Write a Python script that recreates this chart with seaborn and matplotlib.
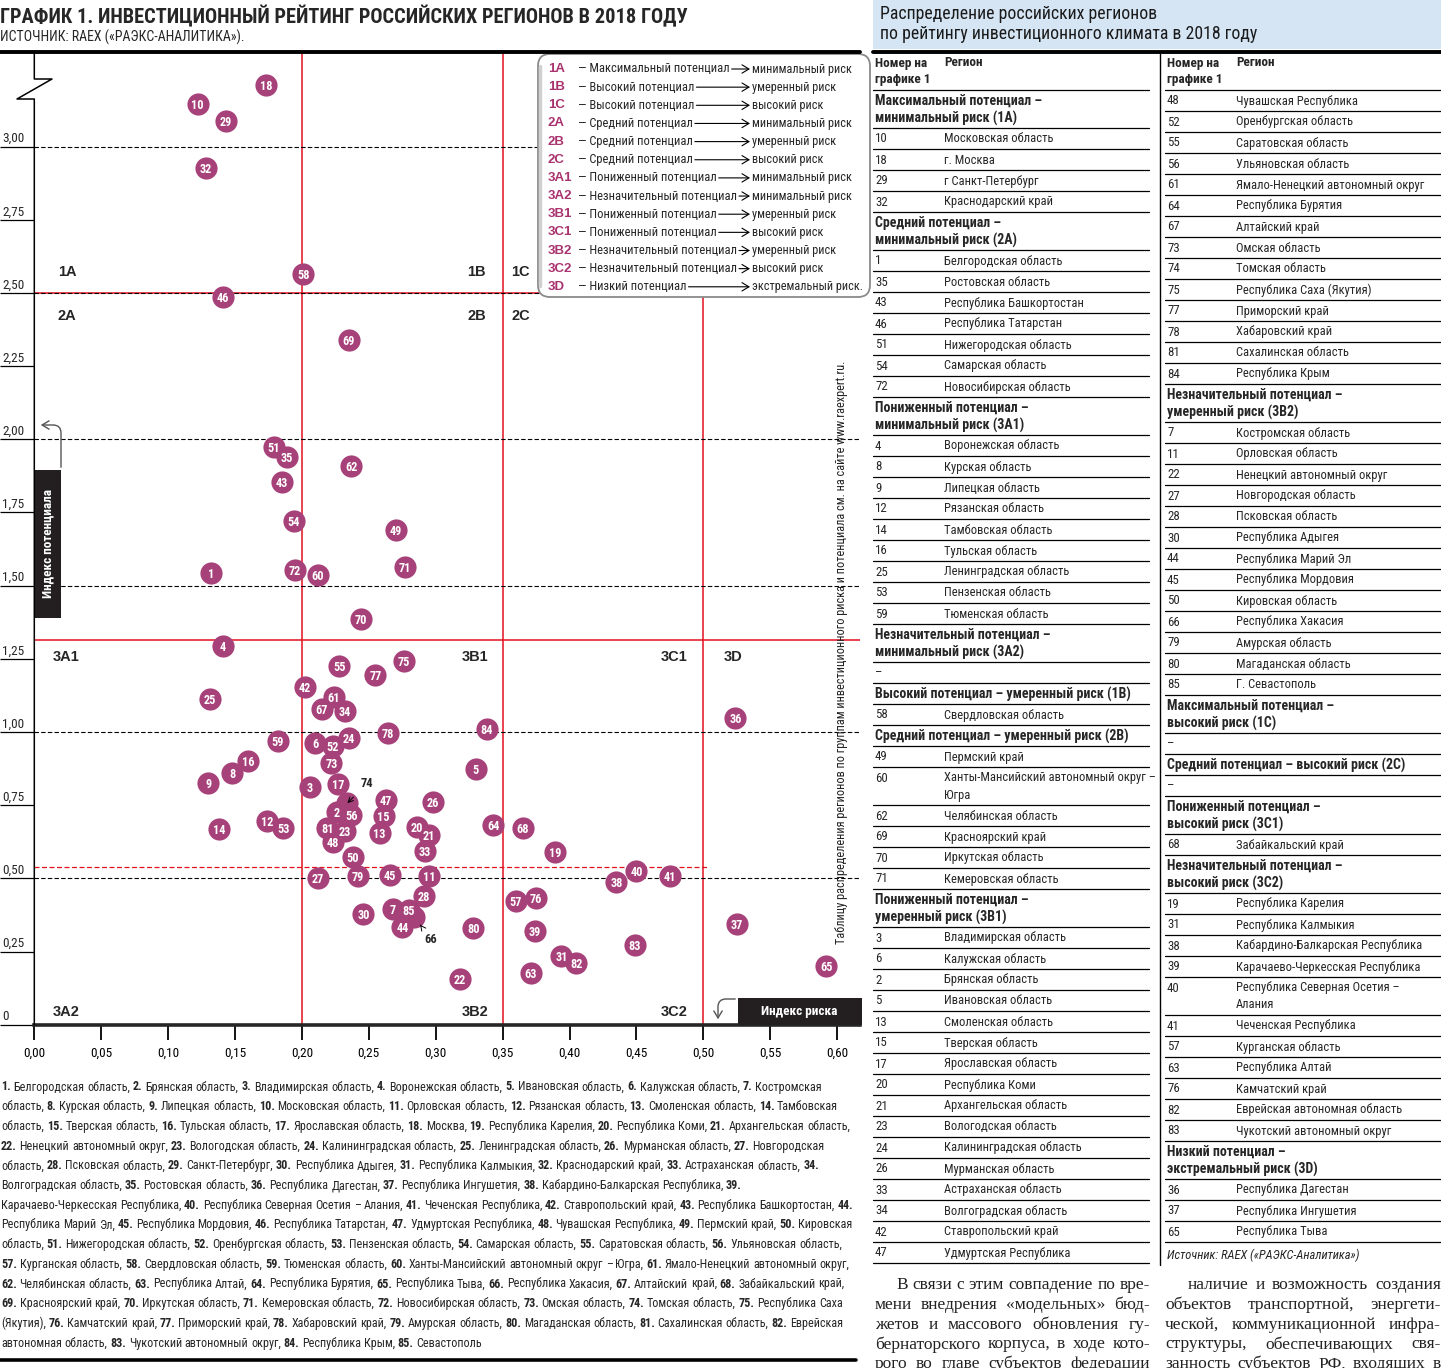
import matplotlib
matplotlib.use('Agg')
import matplotlib.pyplot as plt
from matplotlib import font_manager, transforms
from matplotlib.lines import Line2D
from matplotlib.patches import Rectangle, FancyBboxPatch, FancyArrowPatch
import pandas as pd
import seaborn as sns

# --- данные графика: номер региона, индекс риска (X), индекс потенциала (Y) ---
region_no = list(range(1, 86))
risk_index = [
    0.132, 0.226, 0.206, 0.141, 0.330, 0.210, 0.268, 0.148, 0.130, 0.122,
    0.295, 0.174, 0.258, 0.138, 0.261, 0.160, 0.227, 0.173, 0.389, 0.286,
    0.295, 0.318, 0.232, 0.235, 0.131, 0.298, 0.212, 0.291, 0.143, 0.246,
    0.394, 0.128, 0.292, 0.232, 0.189, 0.524, 0.525, 0.435, 0.374, 0.450,
    0.475, 0.202, 0.185, 0.275, 0.266, 0.141, 0.263, 0.223, 0.270, 0.238,
    0.179, 0.223, 0.186, 0.194, 0.228, 0.237, 0.360, 0.201, 0.182, 0.212,
    0.224, 0.237, 0.371, 0.343, 0.592, 0.284, 0.215, 0.365, 0.235, 0.244,
    0.277, 0.195, 0.222, 0.234, 0.276, 0.375, 0.255, 0.264, 0.242, 0.328,
    0.219, 0.405, 0.449, 0.338, 0.280,
]
potential_index = [
    1.544, 0.726, 0.812, 1.295, 0.873, 0.961, 0.395, 0.859, 0.825, 3.146,
    0.507, 0.695, 0.656, 0.670, 0.713, 0.900, 0.821, 3.210, 0.590, 0.675,
    0.649, 0.155, 0.663, 0.980, 1.114, 0.762, 0.500, 0.441, 3.088, 0.377,
    0.235, 2.926, 0.594, 1.071, 1.939, 1.047, 0.344, 0.487, 0.320, 0.524,
    0.509, 1.155, 1.854, 0.335, 0.510, 2.485, 0.768, 0.623, 1.690, 0.573,
    1.973, 0.953, 0.673, 1.720, 1.225, 0.715, 0.424, 2.564, 0.968, 1.536,
    1.121, 1.908, 0.176, 0.681, 0.202, 0.368, 1.080, 0.671, 2.339, 1.385,
    1.564, 1.552, 0.895, 0.757, 1.244, 0.432, 1.195, 0.996, 0.507, 0.329,
    0.673, 0.210, 0.271, 1.010, 0.391,
]
region_names = [
    'Белгородская область', 'Брянская область', 'Владимирская область', 'Воронежская область',
    'Ивановская область', 'Калужская область', 'Костромская область', 'Курская область',
    'Липецкая область', 'Московская область', 'Орловская область', 'Рязанская область',
    'Смоленская область', 'Тамбовская область', 'Тверская область', 'Тульская область',
    'Ярославская область', 'Москва', 'Республика Карелия', 'Республика Коми',
    'Архангельская область', 'Ненецкий автономный округ', 'Вологодская область',
    'Калининградская область', 'Ленинградская область', 'Мурманская область',
    'Новгородская область', 'Псковская область', 'Санкт-Петербург', 'Республика Адыгея',
    'Республика Калмыкия', 'Краснодарский край', 'Астраханская область', 'Волгоградская область',
    'Ростовская область', 'Республика Дагестан', 'Республика Ингушетия',
    'Кабардино-Балкарская Республика', 'Карачаево-Черкесская Республика',
    'Республика Северная Осетия – Алания', 'Чеченская Республика', 'Ставропольский край',
    'Республика Башкортостан', 'Республика Марий Эл', 'Республика Мордовия',
    'Республика Татарстан', 'Удмуртская Республика', 'Чувашская Республика', 'Пермский край',
    'Кировская область', 'Нижегородская область', 'Оренбургская область', 'Пензенская область',
    'Самарская область', 'Саратовская область', 'Ульяновская область', 'Курганская область',
    'Свердловская область', 'Тюменская область', 'Ханты-Мансийский автономный округ – Югра',
    'Ямало-Ненецкий автономный округ', 'Челябинская область', 'Республика Алтай',
    'Республика Бурятия', 'Республика Тыва', 'Республика Хакасия', 'Алтайский край',
    'Забайкальский край', 'Красноярский край', 'Иркутская область', 'Кемеровская область',
    'Новосибирская область', 'Омская область', 'Томская область', 'Республика Саха (Якутия)',
    'Камчатский край', 'Приморский край', 'Хабаровский край', 'Амурская область',
    'Магаданская область', 'Сахалинская область', 'Еврейская автономная область',
    'Чукотский автономный округ', 'Республика Крым', 'Севастополь',
]
hidden_points = [74, 66]  # кружки закрыты соседями, подписаны сбоку со стрелкой

x_ticks = [0.00, 0.05, 0.10, 0.15, 0.20, 0.25, 0.30, 0.35, 0.40, 0.45, 0.50, 0.55, 0.60]
x_tick_labels = ['0,00', '0,05', '0,10', '0,15', '0,20', '0,25', '0,30',
                 '0,35', '0,40', '0,45', '0,50', '0,55', '0,60']
y_ticks = [0, 0.25, 0.50, 0.75, 1.00, 1.25, 1.50, 1.75, 2.00, 2.25, 2.50, 2.75, 3.00]
y_tick_labels = ['0', '0,25', '0,50', '0,75', '1,00', '1,25', '1,50',
                 '1,75', '2,00', '2,25', '2,50', '2,75', '3,00']
grid_levels = [0.5, 1.0, 1.5, 2.0, 2.5, 3.0]
risk_bounds = [0.20, 0.35, 0.50]
potential_bounds = [1.314, 2.50]
low_bound = 0.538  # красный пунктир между 3x1 и 3x2

legend_codes = ['1A', '1B', '1C', '2A', '2B', '2C', '3A1', '3A2', '3B1', '3C1', '3B2', '3C2', '3D']
legend_potential = ['Максимальный потенциал', 'Высокий потенциал', 'Высокий потенциал',
                    'Средний потенциал', 'Средний потенциал', 'Средний потенциал',
                    'Пониженный потенциал', 'Незначительный потенциал', 'Пониженный потенциал',
                    'Пониженный потенциал', 'Незначительный потенциал', 'Незначительный потенциал',
                    'Низкий потенциал']
legend_risk = ['минимальный риск', 'умеренный риск', 'высокий риск', 'минимальный риск',
               'умеренный риск', 'высокий риск', 'минимальный риск', 'минимальный риск',
               'умеренный риск', 'высокий риск', 'умеренный риск', 'высокий риск',
               'экстремальный риск.']

# подписи зон на графике (текст, x и y в пикселях картинки)
zone_labels = [('1A', 58, 272), ('1B', 467, 272), ('1C', 511, 272),
               ('2A', 58, 316), ('2B', 467, 316), ('2C', 511, 316),
               ('3A1', 53, 657), ('3B1', 462, 657), ('3C1', 661, 657), ('3D', 724, 657),
               ('3A2', 53, 1012), ('3B2', 462, 1012), ('3C2', 661, 1012)]

# таблица справа
table_groups = [
    ('Максимальный потенциал –\nминимальный риск (1А)', [10, 18, 29, 32]),
    ('Средний потенциал –\nминимальный риск (2А)', [1, 35, 43, 46, 51, 54, 72]),
    ('Пониженный потенциал –\nминимальный риск (3А1)', [4, 8, 9, 12, 14, 16, 25, 53, 59]),
    ('Незначительный потенциал –\nминимальный риск (3А2)', []),
    ('Высокий потенциал – умеренный риск (1В)', [58]),
    ('Средний потенциал – умеренный риск (2В)', [49, 60, 62, 69, 70, 71]),
    ('Пониженный потенциал –\nумеренный риск (3В1)',
     [3, 6, 2, 5, 13, 15, 17, 20, 21, 23, 24, 26, 33, 34, 42, 47, 48, 52, 55, 56,
      61, 64, 67, 73, 74, 75, 77, 78, 81, 84]),
    ('Незначительный потенциал –\nумеренный риск (3В2)',
     [7, 11, 22, 27, 28, 30, 44, 45, 50, 66, 79, 80, 85]),
    ('Максимальный потенциал –\nвысокий риск (1С)', []),
    ('Средний потенциал – высокий риск (2С)', []),
    ('Пониженный потенциал –\nвысокий риск (3С1)', [68]),
    ('Незначительный потенциал –\nвысокий риск (3С2)', [19, 31, 38, 39, 40, 41, 57, 63, 76, 82, 83]),
    ('Низкий потенциал –\nэкстремальный риск (3D)', [36, 37, 65]),
]
table_names = {18: 'г. Москва', 29: 'г Санкт-Петербург', 85: 'Г. Севастополь',
               60: 'Ханты-Мансийский автономный округ –\nЮгра',
               40: 'Республика Северная Осетия –\nАлания'}

body_left = ['В связи с этим совпадение по вре-', 'мени внедрения «модельных» бюд-',
             'жетов и массового обновления гу-', 'бернаторского корпуса, в ходе кото-',
             'рого во главе субъектов федерации']
body_right = ['наличие и возможность создания', 'объектов транспортной, энергети-',
              'ческой, коммуникационной инфра-', 'структуры, обеспечивающих свя-',
              'занность субъектов РФ, входящих в']

DOT = '#A7417A'
CODE = '#A9336F'
RED = '#E3101E'
W, H = 1441, 1368

available = set(font_manager.fontManager.get_font_names())
NARROW = next((f for f in ['Liberation Sans Narrow', 'Roboto Condensed', 'DejaVu Sans']
               if f in available), 'DejaVu Sans')
REGULAR = 'Liberation Sans' if 'Liberation Sans' in available else 'DejaVu Sans'
SERIF = 'Liberation Serif' if 'Liberation Serif' in available else 'DejaVu Serif'

sns.set_style('white')
plt.rcParams['font.family'] = [NARROW, 'DejaVu Sans']
plt.rcParams['font.stretch'] = 'condensed'

fig = plt.figure(figsize=(W / 100, H / 100), dpi=100)
renderer = fig.canvas.get_renderer()
# пиксели картинки, начало координат слева сверху
PX = transforms.Affine2D().scale(1 / W, -1 / H).translate(0, 1) + fig.transFigure


def ftext(x, y, s, **kw):
    kw.setdefault('va', 'center')
    return fig.text(x, y, s, transform=PX, **kw)


def fline(xs, ys, **kw):
    kw.setdefault('color', 'black')
    fig.add_artist(Line2D(xs, ys, transform=PX, **kw))


def text_w(s, **kw):
    t = fig.text(0, 0, s, **kw)
    w = t.get_window_extent(renderer=renderer).width
    t.remove()
    return w


# --- график ---
X0, Y0, X1, Y1 = 34.3, 1024.7, 860, 52
PX_PER_RISK, PX_PER_POT = 1338, 292.7
ax = fig.add_axes([X0 / W, 1 - Y0 / H, (X1 - X0) / W, (Y0 - Y1) / H])
ax.set_xlim(0, (X1 - X0) / PX_PER_RISK)
ax.set_ylim(0, (Y0 - Y1) / PX_PER_POT)

for v in risk_bounds:
    ax.axvline(v, color=RED, lw=1.1, zorder=1)
for v in potential_bounds:
    ax.axhline(v, color=RED, lw=1.1, zorder=1)
ax.plot([0, risk_bounds[-1] + 0.004], [low_bound, low_bound], color=RED, lw=0.9,
        ls=(0, (4, 2)), zorder=1)
for v in grid_levels:
    ax.axhline(v, color='black', lw=0.8, ls=(0, (4, 2)), zorder=2)

df = pd.DataFrame({'region': region_no, 'risk': risk_index, 'potential': potential_index})
df['first'] = ~df['region'].isin(hidden_points)
df = df.sort_values(['first', 'region'])
sns.scatterplot(data=df, x='risk', y='potential', s=255, color=DOT, linewidth=0,
                ax=ax, legend=False, zorder=4, clip_on=False)
for r in df.itertuples():
    if r.region in hidden_points:
        continue
    ax.text(r.risk, r.potential, str(r.region), ha='center', va='center_baseline',
            color='white', fontsize=8.8, weight='bold', zorder=5)

for n, off in zip(hidden_points, [(14, 14), (12, -16)]):
    r = df[df['region'] == n].iloc[0]
    ax.annotate(str(n), xy=(r.risk, r.potential), xytext=off, textcoords='offset points',
                ha='center', va='center', fontsize=9, weight='bold', zorder=6,
                arrowprops=dict(arrowstyle='->', lw=0.7, color='black', shrinkA=4, shrinkB=7))

ax.set_xlabel('')
ax.set_ylabel('')
ax.spines[['top', 'right', 'left']].set_visible(False)
ax.spines['bottom'].set_linewidth(2.6)
ax.set_xticks(x_ticks, x_tick_labels, fontsize=9.5)
ax.set_yticks(y_ticks, [''] * len(y_ticks))
ax.tick_params(axis='x', bottom=True, length=11, width=1.3, pad=5, colors='black')
ax.tick_params(axis='y', left=True, length=24.7, width=0.9, colors='black')
for v, lbl in zip(y_ticks, y_tick_labels):
    ax.annotate(lbl, xy=(2 / W, v), xycoords=('figure fraction', 'data'), xytext=(0, 1),
                textcoords='offset points', ha='left', va='bottom', fontsize=9.5)

# разрыв оси Y
fline([X0, X0, 52, 17, X0, X0], [52, 79, 79, 99, 99, Y0], lw=1.1)

for code, x, y in zone_labels:
    ftext(x, y, code, family=REGULAR, weight='bold', fontsize=10.5)

# подписи осей в чёрных плашках
fig.add_artist(Rectangle((35, 470), 26, 148, transform=PX, fc='#231f20', ec='none'))
ftext(48, 544, 'Индекс потенциала', color='white', weight='bold', fontsize=9.5,
      rotation=90, ha='center')
fig.add_artist(FancyArrowPatch((61, 470), (38, 425), transform=PX,
                               connectionstyle='angle,angleA=90,angleB=0,rad=8',
                               arrowstyle='->,head_length=5,head_width=3', lw=1, color='#555'))
fig.add_artist(Rectangle((738, 998), 124, 27, transform=PX, fc='#231f20', ec='none'))
ftext(799, 1011, 'Индекс риска', color='white', weight='bold', fontsize=9.5, ha='center')
fig.add_artist(FancyArrowPatch((738, 999), (718, 1022), transform=PX,
                               connectionstyle='angle,angleA=0,angleB=90,rad=8',
                               arrowstyle='->,head_length=5,head_width=3', lw=1, color='#555'))

ftext(842, 652, 'Таблицу распределения регионов по группам инвестиционного риска и потенциала '
      'см. на сайте www.raexpert.ru.', rotation=90, ha='center', fontsize=8.8, color='#222')

# легенда зон
fig.add_artist(FancyBboxPatch((538, 54), 332, 243, transform=PX,
                              boxstyle='round,pad=0,rounding_size=12',
                              fc='white', ec='#8a8a8a', lw=1.3))
fline([540, 540], [66, 286], color='#d0d0d0', lw=2.5)
for i, (code, pot, risk) in enumerate(zip(legend_codes, legend_potential, legend_risk)):
    y = 69 + i * 18.15
    ftext(548, y, code, color=CODE, weight='bold', family=REGULAR, fontsize=9.5)
    t = ftext(578, y, '— ' + pot, fontsize=9)
    x_end = t.get_window_extent(renderer=renderer).x1
    fig.add_artist(FancyArrowPatch((x_end + 2, y), (750, y), transform=PX,
                                   arrowstyle='->,head_length=5,head_width=3', lw=0.8,
                                   color='black', shrinkA=0, shrinkB=0))
    ftext(752, y, risk, fontsize=8.8)

# заголовок
fline([0, 860], [52, 52], lw=2.8)
ftext(0, 16, 'ГРАФИК 1. ИНВЕСТИЦИОННЫЙ РЕЙТИНГ РОССИЙСКИХ РЕГИОНОВ В 2018 ГОДУ',
      weight='bold', fontsize=14.7)
ftext(0, 37, 'ИСТОЧНИК: RAEX («РАЭКС-АНАЛИТИКА»).', fontsize=10)

# --- расшифровка номеров под графиком ---
FOOT_FS = 8.7
tokens = []
for n, name in zip(region_no, region_names):
    tokens.append((f'{n}.', True))
    words = name.split(' ')
    if n != region_no[-1]:
        words[-1] += ','
    tokens += [(w, False) for w in words]
space = text_w('a a', fontsize=FOOT_FS) - text_w('aa', fontsize=FOOT_FS)
lines, cur, cur_w = [], [], 0
for tok, bold in tokens:
    w = text_w(tok, fontsize=FOOT_FS, weight='bold' if bold else 'normal')
    need = w if not cur else cur_w + space + w
    if need > 858 and cur:
        lines.append(cur)
        cur, cur_w = [(tok, bold, w)], w
    else:
        cur.append((tok, bold, w))
        cur_w = need
lines.append(cur)
for i, line in enumerate(lines):
    x = 1
    for tok, bold, w in line:
        ftext(x, 1087 + i * 19.7, tok, fontsize=FOOT_FS, weight='bold' if bold else 'normal')
        x += w + space
fline([0, 856], [1360, 1360], lw=2.6)

# --- таблица справа ---
fig.add_artist(Rectangle((873, 0), 568, 49, transform=PX, fc='#d5e5f4', ec='none'))
ftext(880, 14, 'Распределение российских регионов', fontsize=12.8, color='#1a1a1a')
ftext(880, 34, 'по рейтингу инвестиционного климата в 2018 году', fontsize=12.8, color='#1a1a1a')
fline([873, 1441], [51.5, 51.5], lw=2.8)
fline([1160, 1160], [52, 1265], lw=1)

cols = [dict(x0=873, x1=1149, xn=875, xname=944), dict(x0=1165, x1=1441, xn=1167, xname=1236)]
for c in cols:
    ftext(c['xn'], 63, 'Номер на', weight='bold', fontsize=9.5)
    ftext(c['xn'], 80, 'графике 1', weight='bold', fontsize=9.5)
    ftext(c['xname'], 63, 'Регион', weight='bold', fontsize=9.5)
    fline([c['x0'], c['x1']], [90, 90], lw=0.9)

items = []
for header, members in table_groups:
    items.append(('h', '', header))
    if not members:
        items.append(('r', '–', ''))
    for n in members:
        items.append(('r', str(n), table_names.get(n, region_names[n - 1])))

y, ci = 90, 0
for kind, num, text in items:
    n_lines = text.count('\n') + 1
    h = 21 if n_lines == 1 else 38
    if ci == 0 and y + h > 1267:
        ci, y = 1, 90
    c = cols[ci]
    for k, part in enumerate(text.split('\n')):
        if kind == 'h':
            ftext(c['xn'], y + 11 + 17 * k, part, weight='bold', fontsize=10)
        else:
            ftext(c['xname'], y + 11 + 17 * k, part, fontsize=9)
    if kind == 'r':
        ftext(c['xn'], y + 11, num, fontsize=9.3)
    fline([c['x0'], c['x1']], [y + h, y + h], lw=0.9)
    y += h
ftext(cols[1]['xn'], y + 13, 'Источник: RAEX («РАЭКС-Аналитика»)', style='italic', fontsize=9)


# --- текст статьи внизу справа ---
BODY_FS = 12.5


def justified(x0, width, y, line, indent=0):
    words = line.split(' ')
    ws = [text_w(w, fontsize=BODY_FS, family=SERIF) for w in words]
    gap = (width - indent - sum(ws)) / max(len(words) - 1, 1)
    x = x0 + indent
    for word, w in zip(words, ws):
        ftext(x, y, word, fontsize=BODY_FS, family=SERIF, color='#222')
        x += w + gap


for i, (left, right) in enumerate(zip(body_left, body_right)):
    y = 1285 + i * 19.8
    justified(875, 275, y, left, indent=21 if i == 0 else 0)
    justified(1165, 276, y, right, indent=23 if i == 0 else 0)

fig.savefig('out.png', dpi=100)
